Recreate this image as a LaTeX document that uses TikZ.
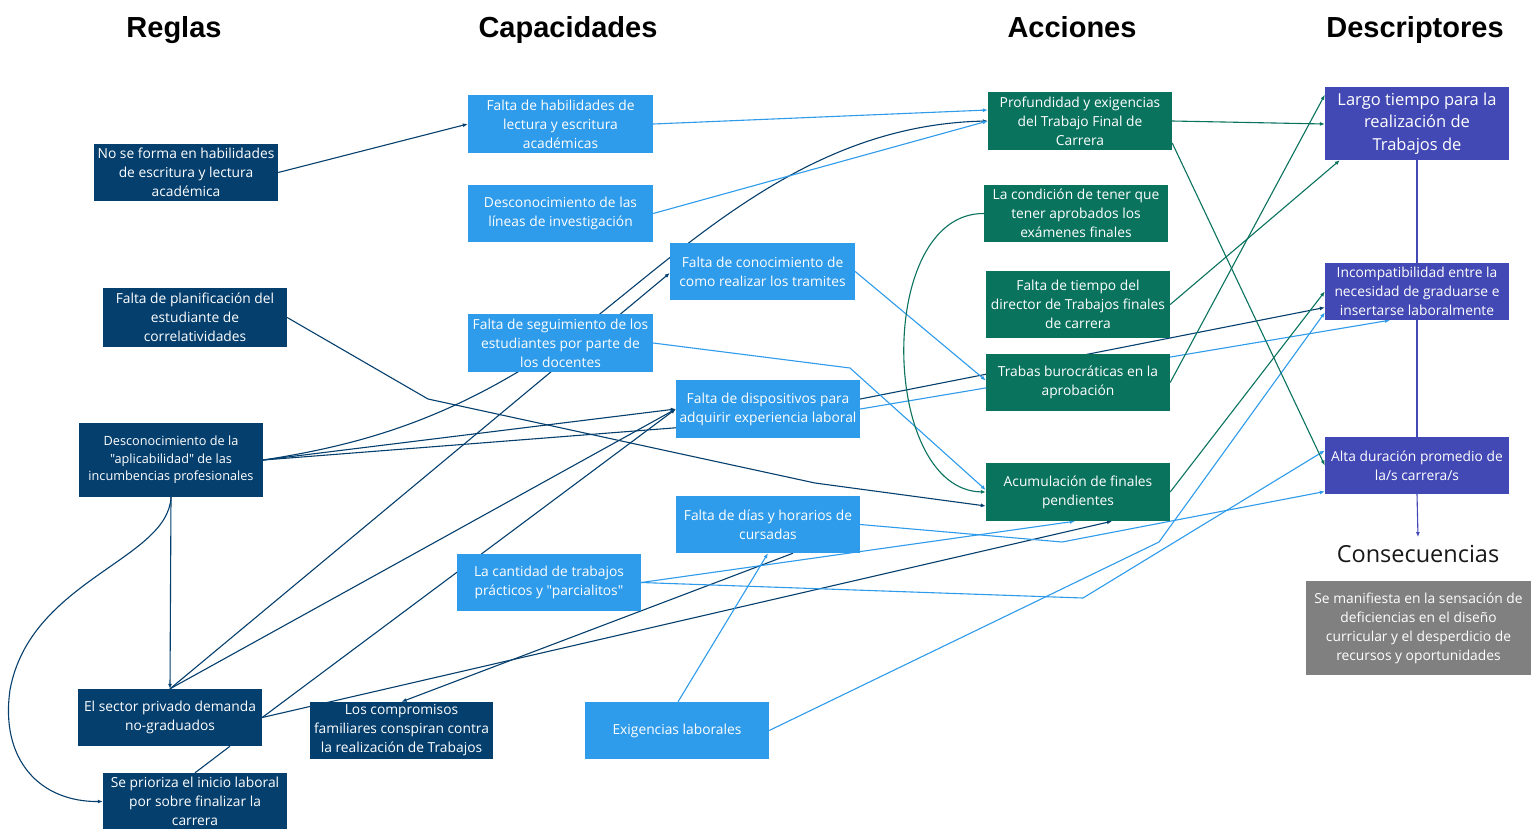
\documentclass[tikz,border=0pt]{standalone}
\usepackage{fontspec}
\setmainfont{Open Sans}[Ligatures=TeXOff]
\newfontfamily\headfont{Liberation Sans}[Ligatures=TeXOff]
\usetikzlibrary{arrows.meta,calc,backgrounds}

\definecolor{navy}{HTML}{053F6E}
\definecolor{sky}{HTML}{2E9BEB}
\definecolor{accgreen}{HTML}{0A735E}
\definecolor{descviolet}{HTML}{4349B4}
\definecolor{greybox}{HTML}{808080}

\begin{document}
\begin{tikzpicture}[x=1pt,y=-1pt,
  box/.style={inner sep=0pt, minimum width=184, minimum height=57, align=center,
              text=white, font=\fontsize{13.8}{19}\selectfont},
  rbox/.style={box, fill=navy},
  cbox/.style={box, fill=sky, minimum width=185},
  abox/.style={box, fill=accgreen},
  dbox/.style={box, fill=descviolet},
  head/.style={anchor=base, inner sep=0pt, font=\headfont\bfseries\fontsize{29}{34}\selectfont},
  link/.style={line width=1.1pt, -{Latex[length=5pt,width=4pt]}},
  nv/.style={link, draw=navy},
  lb/.style={link, draw=sky},
  gr/.style={link, draw=accgreen},
  pu/.style={link, draw=descviolet},
  plain/.style={-}
]
\useasboundingbox (0,0) rectangle (1539,828);

% column headings
\node[head] (hR) at (174,37.5) {Reglas};
\node[head] (hC) at (568,37.5) {Capacidades};
\node[head] (hA) at (1072,37.5) {Acciones};
\node[head] (hD) at (1415,37.5) {Descriptores};

% rules
\node[rbox] (R1) at (186,172.5) {No se forma en habilidades\\de escritura y lectura\\académica};
\node[rbox, minimum height=59] (R2) at (195,317.5) {Falta de planificación del\\estudiante de\\correlatividades};
\node[rbox, minimum height=74, font=\fontsize{12.7}{17.5}\selectfont] (R3) at (171,460) {Desconocimiento de la\\"aplicabilidad" de las\\incumbencias profesionales};
\node[rbox] (R4) at (170,717.5) {El sector privado demanda\\no-graduados};
\node[rbox] (R5) at (195,801.5) {Se prioriza el inicio laboral\\por sobre finalizar la\\carrera};
\node[rbox, minimum width=183] (R6) at (401.5,730.5) {Los compromisos\\familiares conspiran contra\\la realización de Trabajos};

% capacities
\node[cbox, minimum height=58] (C1) at (560.5,124) {Falta de habilidades de\\lectura y escritura\\académicas};
\node[cbox] (C2) at (560.5,213.5) {Desconocimiento de las\\líneas de investigación};
\node[cbox] (C3) at (762.5,271.5) {Falta de conocimiento de\\como realizar los tramites};
\node[cbox, minimum height=58] (C4) at (560.5,343) {Falta de seguimiento de los\\estudiantes por parte de\\los docentes};
\node[cbox, minimum width=184, minimum height=58] (C5) at (768,409) {Falta de dispositivos para\\adquirir experiencia laboral};
\node[cbox, minimum width=184] (C6) at (768,524.5) {Falta de días y horarios de\\cursadas};
\node[cbox, minimum width=184] (C7) at (549,582.5) {La cantidad de trabajos\\prácticos y "parcialitos"};
\node[cbox, minimum width=184] (C8) at (677,730.5) {Exigencias laborales};

% actions
\node[abox, minimum height=58] (A1) at (1080,121) {Profundidad y exigencias\\del Trabajo Final de\\Carrera};
\node[abox] (A2) at (1076,213.5) {La condición de tener que\\tener aprobados los\\exámenes finales};
\node[abox, minimum height=67] (A3) at (1078,304.5) {Falta de tiempo del\\director de Trabajos finales\\de carrera};
\node[abox] (A4) at (1078,382.5) {Trabas burocráticas en la\\aprobación};
\node[abox, minimum height=58] (A5) at (1078,492) {Acumulación de finales\\pendientes};

% descriptors
\node[dbox, minimum height=73, font=\fontsize{16.5}{22.5}\selectfont] (D1) at (1417,123.5) {Largo tiempo para la\\realización de\\Trabajos de};
\node[dbox] (D2) at (1417,291.5) {Incompatibilidad entre la\\necesidad de graduarse e\\insertarse laboralmente};
\node[dbox] (D3) at (1417,465.5) {Alta duración promedio de\\la/s carrera/s};

% consequences
\node[inner sep=0pt, font=\fontsize{23.5}{28}\selectfont, text=black!90] (cons) at (1418,554) {Consecuencias};
\node[box, fill=greybox, minimum width=225, minimum height=94] (G) at (1418.5,628) {Se manifiesta en la sensación de\\deficiencias en el diseño\\curricular y el desperdicio de\\recursos y oportunidades};

% bend points of the routed connectors
\coordinate (b1) at (428,399);
\coordinate (b2) at (815,483);
\coordinate (b3) at (850,368);
\coordinate (b4) at (1062,542);
\coordinate (b5) at (1083,598);
\coordinate (b6) at (1159,542);
\coordinate (r3m) at (560,345);
\coordinate (lp) at (10,690);

\begin{scope}[on background layer]
\fill[white] (0,0) rectangle (1539,828);

% rules
\draw[nv] (R1.east) -- (C1.west);
\draw[nv] (R2.east) -- (b1) -- (b2) -- ($(A5.west)+(0,14)$);
\draw[nv] (R3.east) .. controls (360,445) and (450,420) .. (r3m)
                    .. controls (680,255) and (800,125) .. (A1.west);
\draw[nv] (R3.east) -- (C5.west);
\draw[nv] (R3.east) -- ($(C5.west)+(10,18)$) -- ($(C5.east)+(-5,-9)$) -- ($(D2.west)+(0,16)$);
\draw[nv] (R3.south) -- (R4.north);
\draw[nv] (R3.south) .. controls (168,560) and (30,580) .. (lp)
                     .. controls (0,760) and (40,802) .. (R5.west);
\draw[nv] (R4.north) -- ($(C3.west)+(0,1.5)$);
\draw[nv] (R4.north) -- (C5.west);
\draw[nv] (R4.east) -- (C5.west);
\draw[nv] (R4.east) -- ($(A5.south)+(34,0)$);
\draw[nv] ($(C6.south)+(25,0)$) -- (R6.north);
\draw[nv, plain] (R5.north) -- ($(R4.south)+(60,0)$);

% capacities
\draw[lb] (C1.east) -- ($(A1.west)+(0,-11)$);
\draw[lb] (C2.east) -- (A1.west);
\draw[lb] (C3.east) -- ($(A4.west)+(0,-2)$);
\draw[lb] (C4.east) -- (b3) -- ($(A5.west)+(0,-2)$);
\draw[lb] (C5.east) -- ($(D2.south)+(-27,0)$);
\draw[lb] (C6.east) -- (b4) -- ($(D3.west)+(0,26)$);
\draw[lb] (C7.east) -- ($(A5.south)+(-3,0)$);
\draw[lb] (C7.east) -- (b5) -- ($(D3.west)+(0,-15)$);
\draw[lb] (C8.east) -- (b6) -- ($(D2.west)+(0,21)$);
\draw[lb] ($(C8.north)+(1,0)$) -- (C6.south);

% actions
\draw[gr] (A1.east) -- ($(D1.west)+(0,0.5)$);
\draw[gr] ($(A1.east)+(0,22)$) -- (D3.west);
\draw[gr] (A2.west) .. controls (875,213) and (880,490) .. (A5.west);
\draw[gr] (A3.east) -- ($(D1.south west)+(15,0)$);
\draw[gr] (A4.east) -- ($(D1.north west)+(0,8)$);
\draw[gr] (A5.east) -- (D2.west);

% descriptors
\draw[pu, plain] (D1.south) -- (D2.north);
\draw[pu, plain] (D2.south) -- (D3.north);
\draw[pu] (D3.south) -- ($(cons.north)+(0,-8)$);
\end{scope}
\end{tikzpicture}
\end{document}
